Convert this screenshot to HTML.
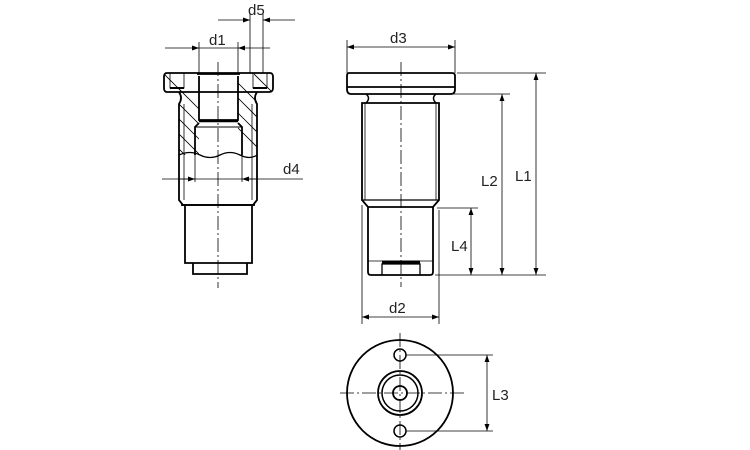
<!DOCTYPE html>
<html><head><style>body{margin:0;background:#fff}svg{display:block}text{font-family:"Liberation Sans",sans-serif;font-size:15px;fill:#222}</style></head>
<body>
<svg width="750" height="450" viewBox="0 0 750 450" xmlns="http://www.w3.org/2000/svg">
<defs>
<marker id="a" viewBox="0 0 10 10" refX="10" refY="5" markerWidth="9" markerHeight="7" orient="auto-start-reverse" markerUnits="userSpaceOnUse"><path d="M0,1.5 L10,5 L0,8.5 Z" fill="#000"/></marker>
<clipPath id="cl"><path d="M179,92 V155 H199 V73 H179 Z M238,73 V155 H257 V92 Z"/></clipPath>
<clipPath id="cf"><path d="M165,73 H183 V92 H165 Z M254,73 H272 V92 H254 Z"/></clipPath>
</defs>
<g fill="none" stroke="#000" stroke-width="1">
<!-- LEFT VIEW -->
<line x1="218" y1="62" x2="218" y2="288" stroke-dasharray="14,3,2,3" stroke-width="0.8"/>
<!-- hatching -->
<g clip-path="url(#cl)" stroke-width="0.8">
<path d="M150,60 l60,60 M150,75 l60,60 M150,90 l60,60 M150,105 l60,60 M150,120 l60,60 M230,60 l60,60 M230,75 l60,60 M230,90 l60,60 M230,105 l60,60 M230,120 l60,60 M230,45 l60,60"/>
</g>
<g clip-path="url(#cf)" stroke-width="0.8">
<path d="M160,70 l25,25 M250,70 l25,25 M265,65 l25,25"/>
</g>
<path d="M167,73 H270 Q273,73 273,77 V88 Q273,92 269,92 H167 Q164,92 164,88 V77 Q164,73 167,73 Z" stroke-width="1.8"/>
<path d="M179,92 Q183,98 179,104 V200 L183,205 H253 L257,200 V104 Q253,98 257,92" stroke-width="1.8"/>
<line x1="181" y1="205" x2="255" y2="205" stroke-width="1.8"/>
<path d="M185,205 V263 H252 V205" stroke-width="1.8"/>
<path d="M193,263 V274 H247 V263" stroke-width="1.8"/>
<line x1="184" y1="104" x2="184" y2="200" stroke-width="0.8"/>
<line x1="252" y1="104" x2="252" y2="200" stroke-width="0.8"/>
<!-- bore -->
<path d="M199,76 V120 H238 V76" stroke-width="1.8"/>
<line x1="197" y1="74" x2="240" y2="74" stroke-width="1.8"/>
<line x1="199" y1="121" x2="238" y2="121" stroke-width="2.5"/>
<path d="M199,123 L195,127 V155 M238,123 L242,127 V155" stroke-width="1.8"/>
<line x1="195" y1="127" x2="242" y2="127" stroke-width="1"/>
<path d="M179,155 Q190,150 200,155 T220,155 T240,155 T257,155" stroke-width="1.3"/>
<line x1="195" y1="155" x2="195" y2="182" stroke-width="0.8"/>
<line x1="242" y1="155" x2="242" y2="182" stroke-width="0.8"/>
<!-- small holes in flange -->
<path d="M170,73 V88 H184 V73 M253,73 V88 H267 V73" stroke-width="0.8"/>
<line x1="170" y1="88" x2="184" y2="88" stroke-width="2"/>
<line x1="253" y1="88" x2="267" y2="88" stroke-width="2"/>
<!-- dims left -->
<line x1="199" y1="42" x2="199" y2="73" stroke-width="0.8"/>
<line x1="238" y1="42" x2="238" y2="73" stroke-width="0.8"/>
<line x1="250" y1="14" x2="250" y2="73" stroke-width="0.8"/>
<line x1="263" y1="14" x2="263" y2="73" stroke-width="0.8"/>
<line x1="165" y1="48" x2="199" y2="48" marker-end="url(#a)" stroke-width="0.8"/>
<line x1="270" y1="48" x2="238" y2="48" marker-end="url(#a)" stroke-width="0.8"/>
<line x1="199" y1="48" x2="238" y2="48" stroke-width="0.8"/>
<line x1="218" y1="20" x2="250" y2="20" marker-end="url(#a)" stroke-width="0.8"/>
<line x1="295" y1="20" x2="263" y2="20" marker-end="url(#a)" stroke-width="0.8"/>
<line x1="162" y1="179" x2="303" y2="179" stroke-width="0.8"/>
<line x1="180" y1="179" x2="195" y2="179" marker-end="url(#a)" stroke-width="0.8"/>
<line x1="257" y1="179" x2="242" y2="179" marker-end="url(#a)" stroke-width="0.8"/>

<!-- MIDDLE VIEW -->
<line x1="401" y1="62" x2="401" y2="287" stroke-dasharray="14,3,2,3" stroke-width="0.8"/>
<path d="M349,73 H452 Q455,73 455,76 V89 Q455,94 451,94 H351 Q347,94 347,89 V76 Q347,73 349,73 Z" stroke-width="1.8"/>
<line x1="347" y1="87" x2="455" y2="87" stroke-width="1.8"/>
<path d="M366,94 Q371,98 366,103 M436,94 Q431,98 436,103" stroke-width="1.5"/>
<path d="M362,103 H439 V200 L433,207 H368 L362,200 Z" stroke-width="1.8"/>
<line x1="365" y1="103" x2="365" y2="200" stroke-width="0.8"/>
<line x1="436" y1="103" x2="436" y2="200" stroke-width="0.8"/>
<line x1="362" y1="200" x2="439" y2="200" stroke-width="1.2"/>
<path d="M368,207 V272 Q368,275 371,275 H430 Q433,275 433,272 V207" stroke-width="1.8"/>
<path d="M382,275 V264 H420 V275" stroke-width="1.3"/>
<line x1="382" y1="262" x2="420" y2="262" stroke-width="3"/>
<line x1="368" y1="261" x2="433" y2="261" stroke-width="0.8"/>
<!-- dims middle -->
<line x1="347" y1="40" x2="347" y2="73" stroke-width="0.8"/>
<line x1="455" y1="40" x2="455" y2="73" stroke-width="0.8"/>
<line x1="347" y1="47" x2="455" y2="47" marker-start="url(#a)" marker-end="url(#a)" stroke-width="0.8"/>
<line x1="457" y1="73" x2="546" y2="73" stroke-width="0.8"/>
<line x1="445" y1="94" x2="510" y2="94" stroke-width="0.8"/>
<line x1="437" y1="208" x2="478" y2="208" stroke-width="0.8"/>
<line x1="435" y1="275" x2="546" y2="275" stroke-width="0.8"/>
<line x1="536" y1="73" x2="536" y2="275" marker-start="url(#a)" marker-end="url(#a)" stroke-width="0.8"/>
<line x1="502" y1="94" x2="502" y2="275" marker-start="url(#a)" marker-end="url(#a)" stroke-width="0.8"/>
<line x1="471" y1="208" x2="471" y2="275" marker-start="url(#a)" marker-end="url(#a)" stroke-width="0.8"/>
<line x1="362" y1="205" x2="362" y2="324" stroke-width="0.8"/>
<line x1="439" y1="210" x2="439" y2="324" stroke-width="0.8"/>
<line x1="362" y1="317" x2="439" y2="317" marker-start="url(#a)" marker-end="url(#a)" stroke-width="0.8"/>

<!-- BOTTOM VIEW -->
<line x1="340" y1="393" x2="465" y2="393" stroke-dasharray="14,3,2,3" stroke-width="0.8"/>
<line x1="400" y1="333" x2="400" y2="450" stroke-dasharray="14,3,2,3" stroke-width="0.8"/>
<circle cx="400" cy="393" r="53" stroke-width="1.8"/>
<circle cx="400" cy="393" r="22" stroke-width="1.8"/>
<circle cx="400" cy="393" r="18" stroke-width="1.5"/>
<circle cx="400" cy="393" r="7" stroke-width="1.8"/>
<circle cx="400" cy="355" r="6" stroke-width="1.5"/>
<circle cx="400" cy="431" r="6" stroke-width="1.5"/>
<line x1="406" y1="355" x2="493" y2="355" stroke-width="0.8"/>
<line x1="406" y1="431" x2="493" y2="431" stroke-width="0.8"/>
<line x1="487" y1="355" x2="487" y2="431" marker-start="url(#a)" marker-end="url(#a)" stroke-width="0.8"/>
</g>
<text x="209" y="45">d1</text>
<text x="248" y="15">d5</text>
<text x="283" y="174">d4</text>
<text x="390" y="43">d3</text>
<text x="481" y="186">L2</text>
<text x="515" y="181">L1</text>
<text x="451" y="251">L4</text>
<text x="389" y="313">d2</text>
<text x="492" y="400">L3</text>
</svg>
</body></html>
